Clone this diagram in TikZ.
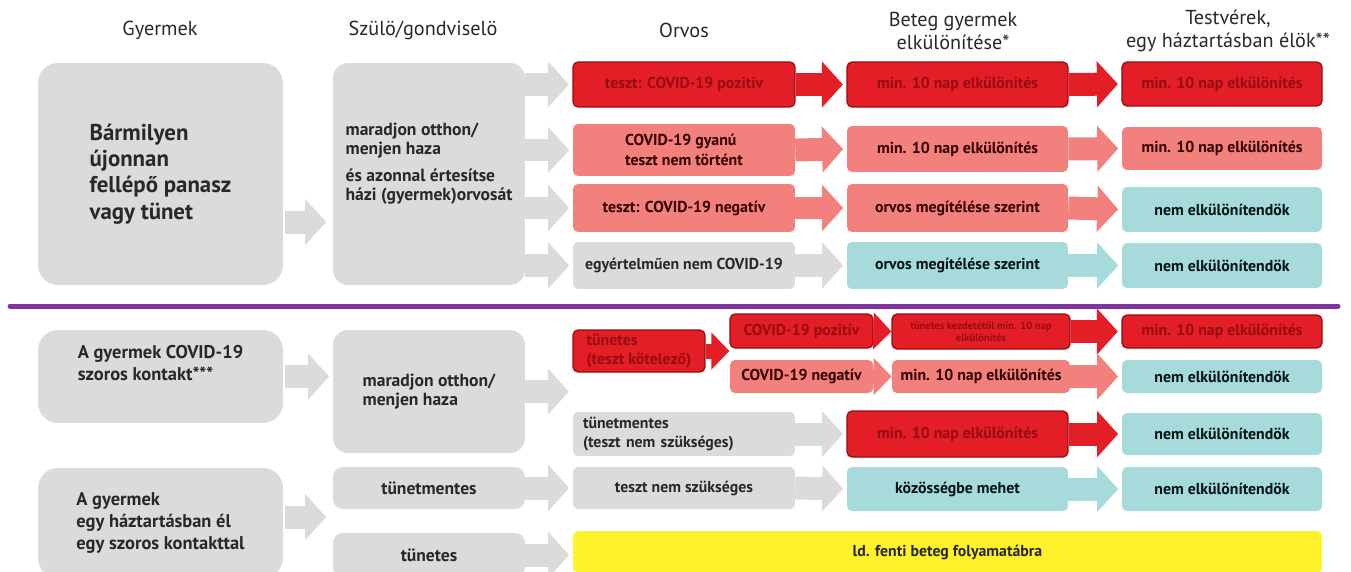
\documentclass[tikz,border=0pt]{standalone}
\usepackage{fontspec}
\setmainfont{PT Sans}
\usetikzlibrary{arrows.meta,calc}
\definecolor{boxgray}{RGB}{221,219,218}
\definecolor{covred}{RGB}{228,30,38}
\definecolor{covdark}{RGB}{150,12,16}
\definecolor{covpink}{RGB}{242,128,124}
\definecolor{covteal}{RGB}{166,218,219}
\definecolor{covyellow}{RGB}{255,241,42}
\definecolor{sepline}{RGB}{128,52,160}
\definecolor{txt}{RGB}{40,40,40}
\tikzset{
	head/.style={font=\fontsize{11.5}{13}\selectfont, text=txt, align=center},
	box/.style={font=\bfseries\fontsize{9}{11}\selectfont, text=txt, align=center, inner sep=0pt, rounded corners=0.1cm},
	graybox/.style={box, fill=boxgray},
	redbox/.style={box, fill=covred, draw=covdark, line width=0.7pt, text=covdark},
	pinkbox/.style={box, fill=covpink, text=black!80!red},
	tealbox/.style={box, fill=covteal, text=black!85!teal},
	yellowbox/.style={box, fill=covyellow},
	bigbox/.style={graybox, rounded corners=0.4cm, font=\bfseries\fontsize{13}{15}\selectfont},
	midbox/.style={graybox, rounded corners=0.3cm, font=\bfseries\fontsize{10}{11}\selectfont},
	arr/.style={draw=#1, line width=0.46cm, -{Triangle[length=0.42cm, width=0.9cm]}, shorten >=2pt},
	sarr/.style={draw=#1, line width=0.3cm, -{Triangle[length=0.36cm, width=0.72cm]}},
}
\begin{document}
\begin{tikzpicture}[x=0.02cm, y=-0.02cm]
	\clip (0,0) rectangle (1351,571);
	\fill[white] (0,0) rectangle (1351,571);
	% Kopfzeile
	\node[head] (hgy) at (160,30) {Gyermek};
	\node[head] (hsz) at (423,30) {Szülö/gondviselö};
	\node[head] (hor) at (684,30) {Orvos};
	\node[head] (hbe) at (953,31) {Beteg gyermek\\elkülönítése*};
	\node[head] (hte) at (1228,31) {Testvérek,\\egy háztartásban élök**};
	% oben: beteg gyermek
	\node[bigbox, minimum width=4.9cm, minimum height=4.44cm, align=left] (child) at (160.5,174) {Bármilyen\\újonnan\\fellépő panasz\\vagy tünet};
	\node[midbox, minimum width=3.84cm, minimum height=4.44cm, align=left] (szulo) at (429,174) {maradjon otthon/\\menjen haza\\[0.9ex]és azonnal értesítse\\házi (gyermek)orvosát\\[0.6ex]};
	\node[redbox, minimum width=4.44cm, minimum height=0.9cm] (o1) at (684,84.5) {teszt: COVID-19 pozitív};
	\node[pinkbox, minimum width=4.44cm, minimum height=1.04cm, align=left] (o2) at (684,150) {COVID-19 gyanú\\teszt nem történt};
	\node[pinkbox, minimum width=4.44cm, minimum height=0.96cm] (o3) at (684,208) {teszt: COVID-19 negatív};
	\node[graybox, minimum width=4.44cm, minimum height=0.94cm] (o4) at (684,265.5) {egyértelműen nem COVID-19};
	\node[redbox, minimum width=4.42cm, minimum height=0.9cm] (b1) at (957.5,84.5) {min. 10 nap elkülönítés};
	\node[pinkbox, minimum width=4.42cm, minimum height=0.92cm] (b2) at (957.5,149) {min. 10 nap elkülönítés};
	\node[pinkbox, minimum width=4.42cm, minimum height=0.96cm] (b3) at (957.5,208) {orvos megítélése szerint};
	\node[tealbox, minimum width=4.42cm, minimum height=0.94cm] (b4) at (957.5,265.5) {orvos megítélése szerint};
	\node[redbox, minimum width=4cm, minimum height=0.88cm] (t1) at (1222,84) {min. 10 nap elkülönítés};
	\node[pinkbox, minimum width=4cm, minimum height=0.86cm] (t2) at (1222,148.5) {min. 10 nap elkülönítés};
	\node[tealbox, minimum width=4cm, minimum height=0.9cm] (t3) at (1222,209.5) {nem elkülönítendök};
	\node[tealbox, minimum width=4cm, minimum height=0.9cm] (t4) at (1222,265.5) {nem elkülönítendök};
	\draw[arr=boxgray] ($(child.east)+(2,48)$) -- ($(szulo.west)+(-3,48)$);
	\foreach \r in {1,...,4}
		\draw[arr=boxgray] (szulo.east |- o\r) -- (o\r.west);
	\draw[arr=covred] (o1.east) -- (b1.west);
	\draw[arr=covred] (b1.east) -- (t1.west);
	\draw[arr=covpink] (o2.east) -- (b2.west);
	\draw[arr=covpink] (b2.east) -- (t2.west);
	\draw[arr=covpink] (o3.east) -- (b3.west);
	\draw[arr=covpink] (b3.east) -- (t3.west);
	\draw[arr=boxgray] (o4.east) -- (b4.west);
	\draw[arr=covteal] (b4.east) -- (t4.west);
	% Trennlinie
	\draw[sepline, line width=0.1cm, line cap=round] (10,306) -- (1338,306);
	% unten: kontakt
	\node[bigbox, minimum width=4.9cm, minimum height=1.86cm, align=left, font=\bfseries\fontsize{10.5}{12.5}\selectfont] (kontakt) at (160.5,376.5) {A gyermek COVID-19\\szoros kontakt***\\[0.5ex]};
	\node[midbox, minimum width=3.84cm, minimum height=2.46cm, align=left] (maradj) at (429,391.5) {maradjon otthon/\\menjen haza};
	\node[redbox, minimum width=2.64cm, minimum height=0.84cm, align=left] (tun) at (639,351) {tünetes\\(teszt kötelező)};
	\node[redbox, minimum width=2.86cm, minimum height=0.68cm] (poz) at (801.5,331) {COVID-19 pozitív};
	\node[pinkbox, minimum width=2.86cm, minimum height=0.66cm] (neg) at (801.5,376.5) {COVID-19 negatív};
	\node[redbox, minimum width=3.56cm, minimum height=0.7cm, font=\bfseries\fontsize{6}{7}\selectfont] (kezd) at (981,331.5) {tünetes kezdetétől min. 10 nap\\elkülönítés};
	\node[pinkbox, minimum width=3.56cm, minimum height=0.66cm] (min10) at (981,376.5) {min. 10 nap elkülönítés};
	\node[redbox, minimum width=4cm, minimum height=0.66cm] (k5) at (1222,331.5) {min. 10 nap elkülönítés};
	\node[tealbox, minimum width=4cm, minimum height=0.66cm] (n5) at (1222,376.5) {nem elkülönítendök};
	\node[graybox, minimum width=4.44cm, minimum height=0.88cm, align=left, text width=4.04cm] (tm) at (684,434) {tünetmentes\\(teszt nem szükséges)};
	\node[redbox, minimum width=4.42cm, minimum height=0.92cm] (tmred) at (957.5,434) {min. 10 nap elkülönítés};
	\node[tealbox, minimum width=4cm, minimum height=0.84cm] (tmt) at (1222,434) {nem elkülönítendök};
	% unten: haztartas
	\node[bigbox, minimum width=4.9cm, minimum height=2.2cm, align=left, font=\bfseries\fontsize{10.5}{12.5}\selectfont] (haztart) at (160.5,523) {A gyermek\\egy háztartásban él\\egy szoros kontakttal};
	\node[midbox, minimum width=3.84cm, minimum height=0.84cm, rounded corners=0.2cm] (sztm) at (429,488) {tünetmentes};
	\node[midbox, minimum width=3.84cm, minimum height=0.88cm, rounded corners=0.2cm] (sztun) at (429,555) {tünetes};
	\node[graybox, minimum width=4.44cm, minimum height=0.84cm] (tns) at (684,488) {teszt nem szükséges};
	\node[tealbox, minimum width=4.42cm, minimum height=0.88cm] (kozos) at (957.5,489) {közösségbe mehet};
	\node[tealbox, minimum width=4cm, minimum height=0.88cm] (tns5) at (1222,489) {nem elkülönítendök};
	\node[yellowbox, minimum width=14.98cm, minimum height=0.84cm] (fenti) at (947.5,552) {ld. fenti beteg folyamatábra};
	\draw[arr=boxgray] ($(kontakt.east)+(2,0)$) -- (kontakt.east -| maradj.west);
	\draw[arr=boxgray] (maradj.east) -- (maradj.east -| tun.west);
	\draw[sarr=covred] (tun.east) -- (tun.east -| poz.west);
	\draw[sarr=covred] (poz.east) -- (kezd.west);
	\draw[sarr=covpink] (neg.east) -- (min10.west);
	\draw[arr=covred] (kezd.east) -- (k5.west);
	\draw[arr=covpink] (min10.east) -- (n5.west);
	\draw[arr=boxgray] (tm.east) -- (tmred.west);
	\draw[arr=covred] (tmred.east) -- (tmt.west);
	\draw[arr=boxgray] ($(haztart.east)+(2,-6)$) -- ($(sztm.west |- haztart.east)+(-3,-6)$);
	\draw[arr=boxgray] (sztm.east) -- (tns.west);
	\draw[arr=boxgray] (tns.east) -- (kozos.west);
	\draw[arr=covteal] (kozos.east) -- (tns5.west);
	\draw[arr=boxgray] (sztun.east) -- (sztun.east -| fenti.west);
\end{tikzpicture}
\end{document}
